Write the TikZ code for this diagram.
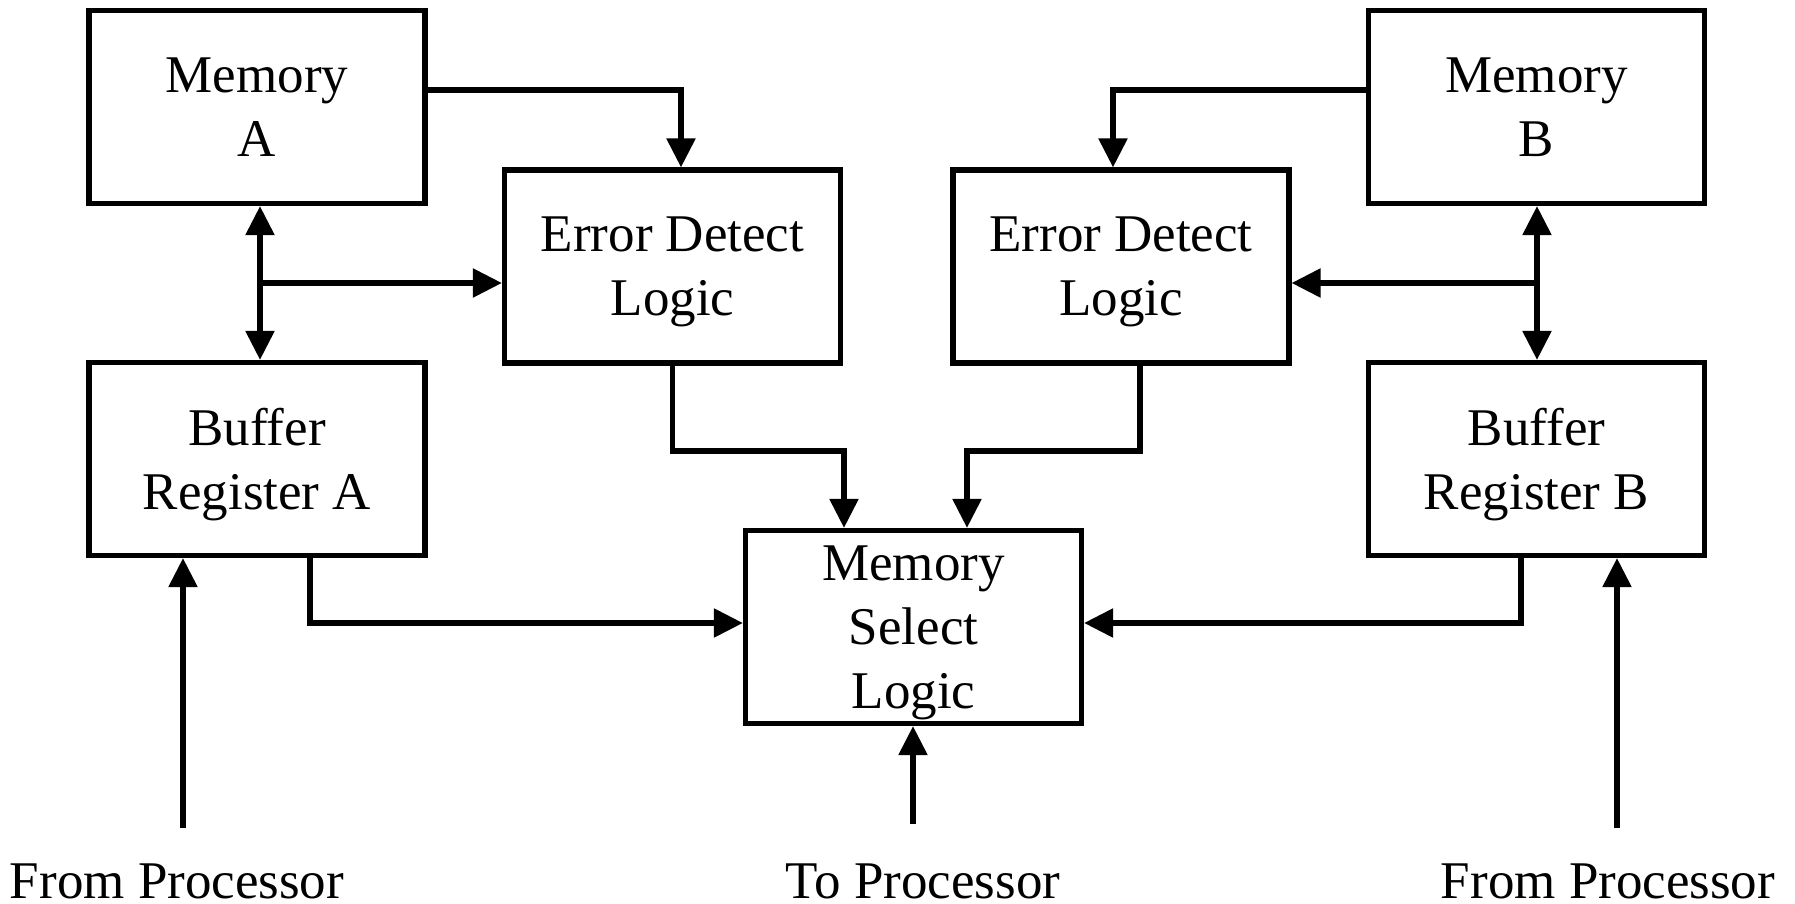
\documentclass[tikz,border=0pt]{standalone}
\usepackage{fontspec}
\setmainfont{Liberation Serif}
\usetikzlibrary{arrows.meta}
\begin{document}
\begin{tikzpicture}[x=0.5pt,y=-0.5pt,
  blk/.style={draw,line width=2.6pt,inner sep=0pt,align=center,
    minimum width=168pt,minimum height=96.5pt,text depth=0pt,
    font=\fontsize{26.5pt}{32pt}\selectfont},
  lbl/.style={inner sep=0pt,anchor=base,font=\fontsize{26.5pt}{32pt}\selectfont},
  wire/.style={line width=2.7pt,line join=miter},
  tip/.tip={Triangle[length=14.5pt,width=14pt]},
  arr/.style={wire,-tip},
  arrb/.style={wire,tip-tip}]
\useasboundingbox (0,0) rectangle (1795,904);

% blocks
\node[blk] (ma)  at (257,107)    {Memory\\A};
\node[blk] (mb)  at (1536.5,107) {Memory\\B};
\node[blk] (eda) at (672.5,266.5){Error Detect\\Logic};
\node[blk] (edb) at (1121,266.5) {Error Detect\\Logic};
\node[blk] (ba)  at (257,459)    {Buffer\\Register A};
\node[blk] (bb)  at (1536.5,459) {Buffer\\Register B};
\node[blk] (ms)  at (913.5,627)  {Memory\\Select\\Logic};

% bottom labels
\node[lbl] (fpa) at (177,898)  {From Processor};
\node[lbl] (tp)  at (923,898)  {To Processor};
\node[lbl] (fpb) at (1608,898) {From Processor};

% routing points
\coordinate (ta) at (681,90);
\coordinate (tb) at (1113,90);
\coordinate (va) at (260,283);
\coordinate (vb) at (1537,283);
\coordinate (da) at (844,451);
\coordinate (db) at (967,451);
\coordinate (xb) at (1140,0);
\coordinate (ra) at (310,623);
\coordinate (rb) at (1521,623);
\coordinate (pa) at (183,828);
\coordinate (pt) at (913,824);
\coordinate (pb) at (1617,828);

% memory to error detect
\draw[arr] (ma.east |- ta) -| (ta |- eda.north);
\draw[arr] (mb.west |- tb) -| (tb |- edb.north);

% memory <-> buffer, tapped into error detect
\draw[arrb] (va |- ma.south) -- (va |- ba.north);
\draw[arr] (va) -- (va -| eda.west);
\draw[arrb] (vb |- mb.south) -- (vb |- bb.north);
\draw[arr] (vb) -- (vb -| edb.east);

% error detect to memory select
\draw[arr] (eda.south) |- (da) -- (da |- ms.north);
\draw[arr] (edb.south -| xb) |- (db) -- (db |- ms.north);

% buffers to memory select
\draw[arr] (ba.south -| ra) -- (ra) -- (ra -| ms.west);
\draw[arr] (bb.south -| rb) -- (rb) -- (rb -| ms.east);

% processor links
\draw[arr] (pa) -- (pa |- ba.south);
\draw[arr] (pt) -- (pt |- ms.south);
\draw[arr] (pb) -- (pb |- bb.south);
\end{tikzpicture}
\end{document}
